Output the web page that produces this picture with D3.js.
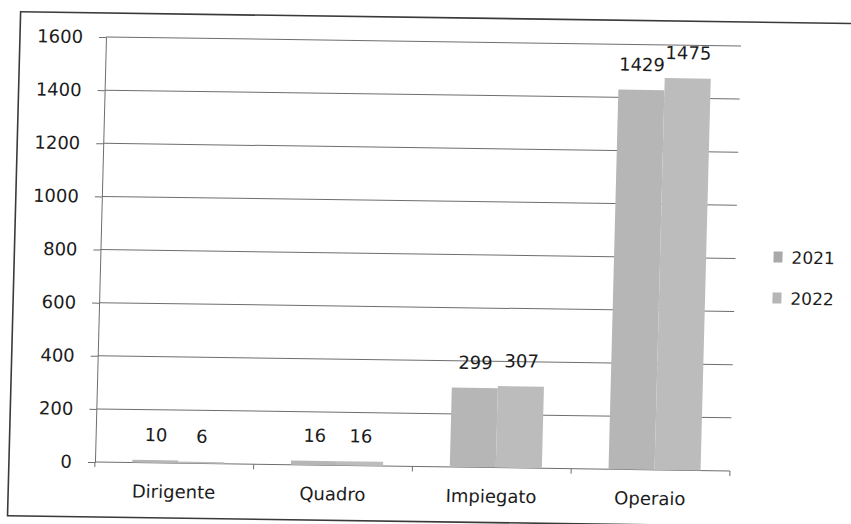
<!DOCTYPE html>
<html>
<head>
<meta charset="utf-8">
<script src="https://cdn.jsdelivr.net/npm/d3@7"></script>
<style>
  html, body { margin: 0; padding: 0; background: #fff; }
  svg { display: block; }
  text { font-family: "DejaVu Sans", Verdana, sans-serif; fill: #1c1c1c; }
</style>
</head>
<body>
<svg id="chart" width="851" height="524"></svg>
<script>
const categories = ["Dirigente", "Quadro", "Impiegato", "Operaio"];
const seriesNames = ["2021", "2022"];
const values2021 = [10, 16, 299, 1429];
const values2022 = [6, 16, 307, 1475];
const yTickValues = [0, 200, 400, 600, 800, 1000, 1200, 1400, 1600];
const seriesColors = ["#b6b6b6", "#bcbcbc"];

const svg = d3.select("#chart");
const plot = { left: 106, right: 741, top: 37, bottom: 462 };

// slight scan skew of the reference
const g = svg.append("g")
  .attr("transform", "matrix(1,0.014,-0.026,1,0.96,-1.48)");

// outer frame
g.append("rect")
  .attr("x", 20).attr("y", 13)
  .attr("width", 860).attr("height", 504)
  .attr("fill", "none").attr("stroke", "#3a3a3a").attr("stroke-width", 1.6);

const y = d3.scaleLinear().domain([0, 1600]).range([plot.bottom, plot.top]);
const x0 = d3.scaleBand().domain(categories).range([plot.left, plot.right]).padding(0);
const bw = x0.bandwidth();
const x1 = d3.scaleBand().domain(seriesNames).range([bw * 0.235, bw * 0.815]).padding(0);

// gridlines
g.append("g")
  .selectAll("line")
  .data(yTickValues)
  .join("line")
  .attr("x1", plot.left).attr("x2", plot.right)
  .attr("y1", d => y(d)).attr("y2", d => y(d))
  .attr("stroke", "#6e6e6e").attr("stroke-width", 1);

// y axis
const yAxis = g.append("g")
  .attr("transform", `translate(${plot.left},0)`)
  .call(d3.axisLeft(y).tickValues(yTickValues).tickFormat(d3.format("d"))
    .tickSize(7).tickPadding(16).tickSizeOuter(0));
yAxis.select(".domain").attr("stroke", "#6e6e6e");
yAxis.selectAll(".tick line").attr("stroke", "#6e6e6e");
yAxis.selectAll(".tick text")
  .style("font-size", "18px")
  .style("font-family", "'DejaVu Sans', Verdana, sans-serif")
  .attr("fill", "#1c1c1c");

// x axis ticks at category boundaries
const boundaries = categories.map(c => x0(c)).concat([plot.right]);
g.append("g")
  .selectAll("line")
  .data(boundaries)
  .join("line")
  .attr("x1", d => d).attr("x2", d => d)
  .attr("y1", y(0)).attr("y2", y(0) + 5)
  .attr("stroke", "#6e6e6e");

// category labels
g.append("g")
  .selectAll("text")
  .data(categories)
  .join("text")
  .attr("x", d => x0(d) + bw / 2)
  .attr("y", y(0) + 35)
  .attr("text-anchor", "middle")
  .style("font-size", "18px")
  .text(d => d);

// bars
const data = categories.map((c, i) => ({
  cat: c,
  vals: [
    { s: seriesNames[0], v: values2021[i] },
    { s: seriesNames[1], v: values2022[i] }
  ]
}));
const color = d3.scaleOrdinal().domain(seriesNames).range(seriesColors);

const groups = g.append("g")
  .selectAll("g")
  .data(data)
  .join("g")
  .attr("transform", d => `translate(${x0(d.cat)},0)`);

groups.selectAll("rect")
  .data(d => d.vals)
  .join("rect")
  .attr("x", d => x1(d.s))
  .attr("width", x1.bandwidth())
  .attr("y", d => y(d.v))
  .attr("height", d => y(0) - y(d.v))
  .attr("fill", d => color(d.s));

groups.selectAll("text")
  .data(d => d.vals)
  .join("text")
  .attr("x", d => x1(d.s) + x1.bandwidth() / 2)
  .attr("y", d => y(d.v) - 19)
  .attr("text-anchor", "middle")
  .style("font-size", "18px")
  .text(d => d.v);

// legend
const legend = g.append("g").attr("transform", "translate(779,0)");
const legendY = [248, 289];
seriesNames.forEach((s, i) => {
  legend.append("rect")
    .attr("x", 0).attr("y", legendY[i] - 6)
    .attr("width", 9).attr("height", 11)
    .attr("fill", i === 0 ? "#a9a9a9" : "#b6b6b6");
  legend.append("text")
    .attr("x", 18).attr("y", legendY[i] + 6)
    .style("font-size", "17px")
    .text(s);
});
</script>
</body>
</html>
